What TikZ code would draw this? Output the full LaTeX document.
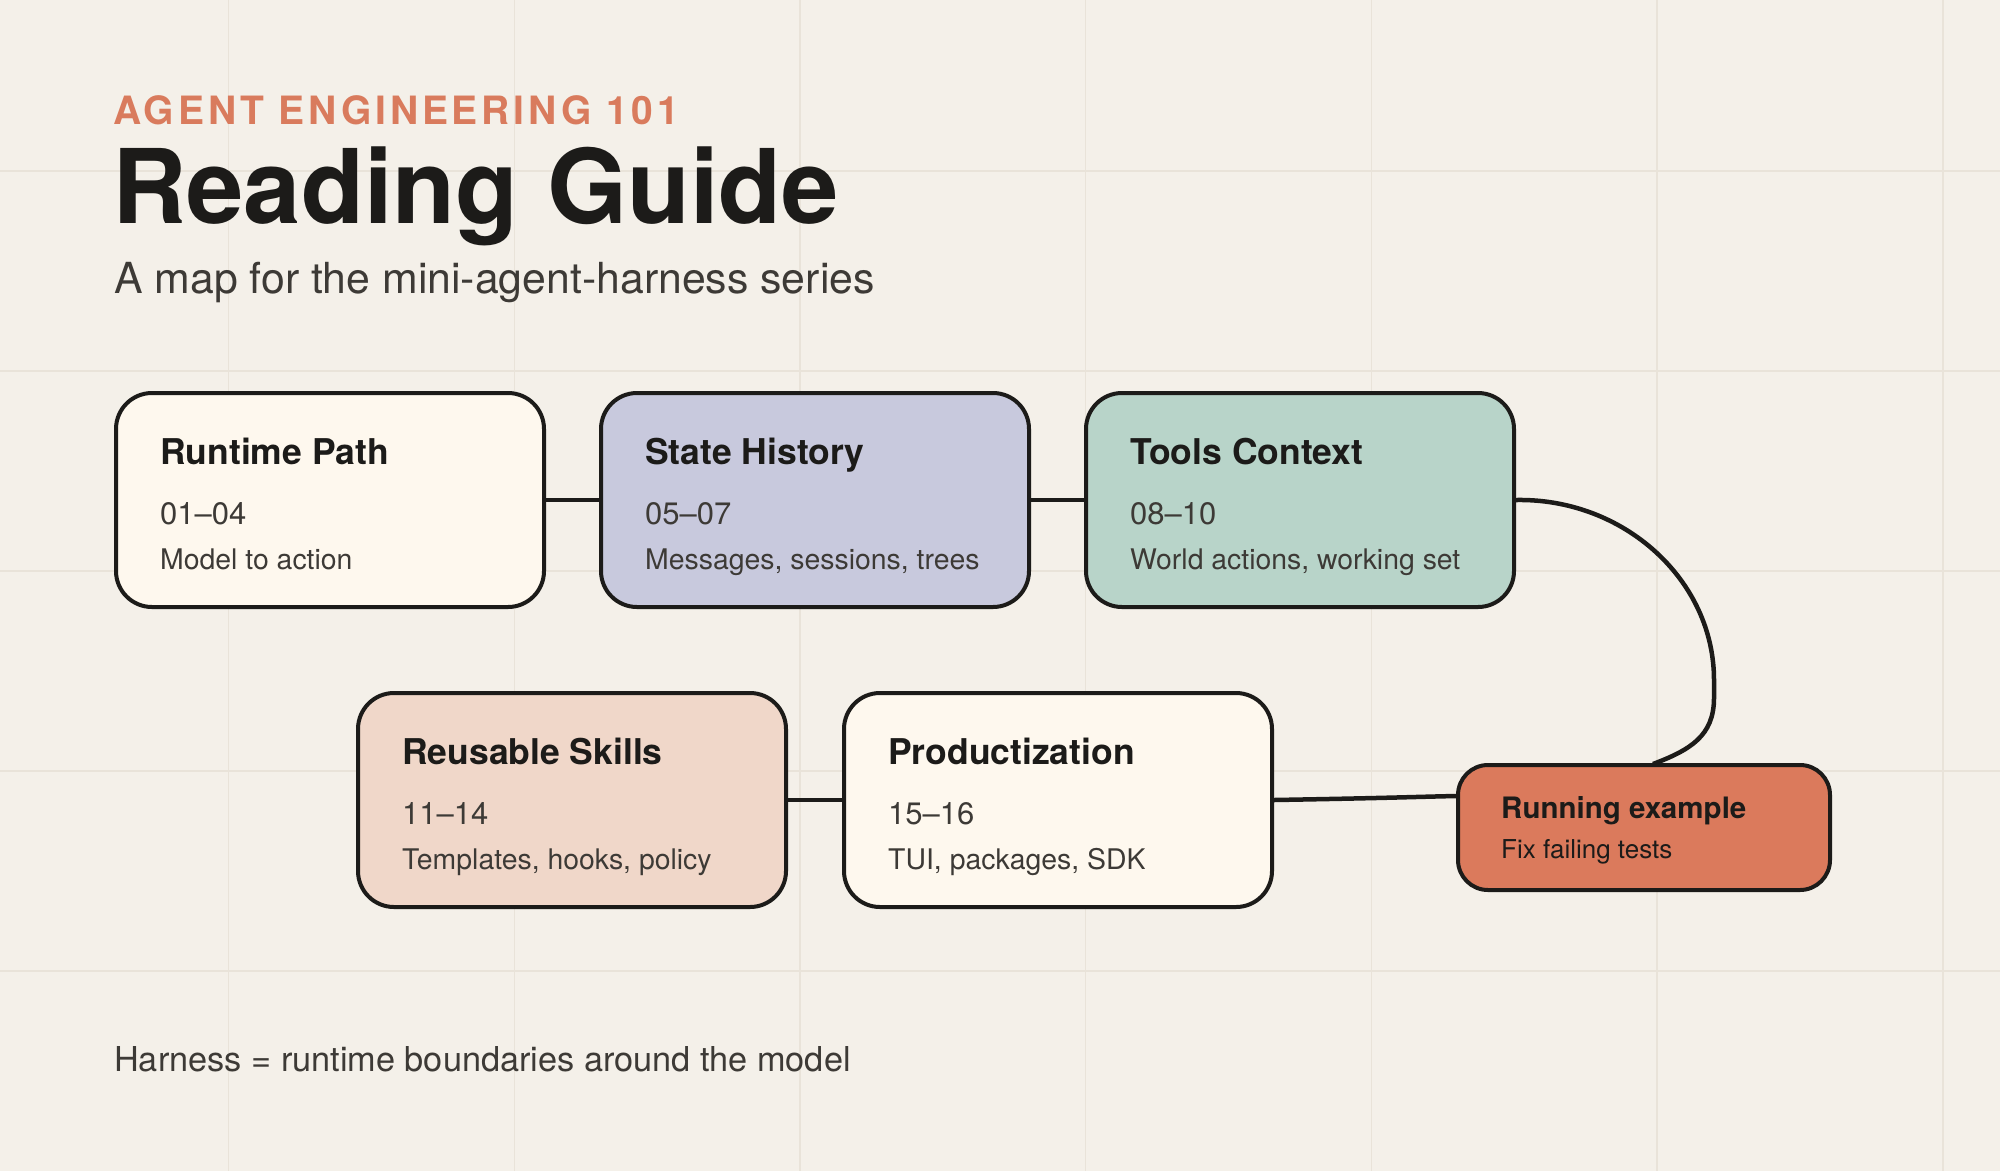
\documentclass[tikz,border=0pt]{standalone}
\usepackage{fontspec}
\setmainfont{TeX Gyre Heros}
\definecolor{bg}{HTML}{F4F0E9}
\definecolor{gridc}{HTML}{E9E3D9}
\definecolor{ink}{HTML}{1C1B19}
\definecolor{soft}{HTML}{3D3A36}
\definecolor{accent}{HTML}{D97B5D}
\definecolor{cream}{HTML}{FEF8EE}
\definecolor{lav}{HTML}{C8C9DD}
\definecolor{sage}{HTML}{B8D4C9}
\definecolor{peach}{HTML}{F0D7C9}
\definecolor{terra}{HTML}{DB7A5C}
\newcommand{\fs}[1]{\fontsize{#1}{#1}\selectfont}
\begin{document}
\begin{tikzpicture}[x=1pt,y=-1pt,
  card/.style={draw=ink, line width=4pt, rounded corners=36pt, minimum width=428pt, minimum height=214pt, anchor=north west, inner sep=0pt},
  smallcard/.style={card, rounded corners=30pt, minimum width=372pt, minimum height=125pt},
  ttl/.style={anchor=base west, inner sep=0pt, text=ink, font=\bfseries\fs{35.5}},
  num/.style={anchor=base west, inner sep=0pt, text=soft, font=\fs{31}},
  dsc/.style={anchor=base west, inner sep=0pt, text=soft, font=\fs{28.4}},
  link/.style={draw=ink, line width=4.5pt}]
\fill[bg] (0,0) rectangle (2000,1171);
\useasboundingbox (0,0) rectangle (2000,1171);
\foreach \gx in {228.6,514.3,800,1085.7,1371.4,1657.1,1942.9} \draw[gridc, line width=1.5pt] (\gx,0) -- (\gx,1171);
\foreach \gy in {171,371,571,771,971} \draw[gridc, line width=1.5pt] (0,\gy) -- (2000,\gy);

\node[anchor=base west, inner sep=0pt, text=accent, font=\bfseries\fs{39}\addfontfeatures{LetterSpace=10}] (kicker) at (113,124) {AGENT ENGINEERING 101};
\node[anchor=base west, inner sep=0pt, text=ink, font=\bfseries\fs{103}] (title) at (112,223) {Reading Guide};
\node[anchor=base west, inner sep=0pt, text=soft, font=\fs{42.8}] (sub) at (114,293) {A map for the mini-agent-harness series};

\node[card, fill=cream] (rp) at (114,391) {};
\node[card, fill=lav] (sh) at (599,391) {};
\node[card, fill=sage] (tc) at (1084,391) {};
\node[card, fill=peach] (rs) at (356,691) {};
\node[card, fill=cream] (pr) at (842,691) {};
\node[smallcard, fill=terra] (re) at (1456,763) {};

\node[ttl] (rpt) at (160,464) {Runtime Path};
\node[num] (rpn) at (160,524) {01–04};
\node[dsc] (rpd) at (160,569) {Model to action};
\node[ttl] (sht) at (645,464) {State History};
\node[num] (shn) at (645,524) {05–07};
\node[dsc] (shd) at (645,569) {Messages, sessions, trees};
\node[ttl] (tct) at (1130,464) {Tools Context};
\node[num] (tcn) at (1130,524) {08–10};
\node[dsc] (tcd) at (1130,569) {World actions, working set};
\node[ttl] (rst) at (402,764) {Reusable Skills};
\node[num] (rsn) at (402,824) {11–14};
\node[dsc] (rsd) at (402,869) {Templates, hooks, policy};
\node[ttl] (prt) at (888,764) {Productization};
\node[num] (prn) at (888,824) {15–16};
\node[dsc] (prd) at (888,869) {TUI, packages, SDK};
\node[ttl, font=\bfseries\fs{29.5}] (ret) at (1501,818) {Running example};
\node[dsc, text=ink, font=\fs{26}] (red) at (1501,858) {Fix failing tests};

\node[anchor=base west, inner sep=0pt, text=soft, font=\fs{34.3}] (foot) at (114,1071) {Harness = runtime boundaries around the model};

\coordinate (reW) at (1456,796);
\coordinate (reN) at (1653,764);
\draw[link] (rp.east) -- (sh.west);
\draw[link] (sh.east) -- (tc.west);
\draw[link] (rs.east) -- (pr.west);
\draw[link] (pr.east) .. controls (1390,798) and (1410,797) .. (reW);
\draw[link] (tc.east) .. controls (1624,498) and (1714,580) .. (1714,680) -- (1714,698) .. controls (1714,736) and (1690,750) .. (reN);
\end{tikzpicture}
\end{document}
